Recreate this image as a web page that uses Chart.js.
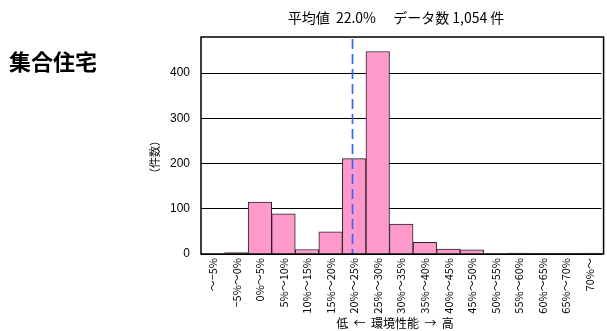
<!DOCTYPE html>
<html>
<head>
<meta charset="utf-8">
<script src="https://cdn.jsdelivr.net/npm/chart.js@4"></script>
<style>
  html, body { margin: 0; padding: 0; background: #fff; }
  #wrap { width: 607px; height: 331px; }
</style>
</head>
<body>
<div id="wrap"><canvas id="histChart" width="607" height="331"></canvas></div>
<script>
const categories = ['～−5%', '−5%～0%', '0%～5%', '5%～10%', '10%～15%', '15%～20%', '20%～25%', '25%～30%',
  '30%～35%', '35%～40%', '40%～45%', '45%～50%', '50%～55%', '55%～60%', '60%～65%', '65%～70%', '70%～'];
const counts = [0, 3, 115, 89, 10, 49, 211, 448, 66, 26, 11, 9, 0, 2, 1, 1, 2];
const yTicks = [0, 100, 200, 300, 400];
const meanPct = 22.0;
const dataCount = '1,054';

const jpFont = '"Noto Sans CJK JP", "Liberation Sans", sans-serif';

// extra drawing: frame, mean line, texts
const decorations = {
  id: 'decorations',
  afterDatasetsDraw(chart) {
    const ctx = chart.ctx;
    const area = chart.chartArea;
    const x = chart.scales.x;

    ctx.save();
    // mean line (category i covers -10+5i .. -5+5i %)
    const pos = (meanPct + 10) / 5 - 0.5;
    const mx = Math.round(x.getPixelForValue(pos)) + 0.5;
    ctx.strokeStyle = '#3366ff';
    ctx.lineWidth = 1.7;
    ctx.setLineDash([10, 5]);
    ctx.beginPath();
    ctx.moveTo(mx, area.top + 2);
    ctx.lineTo(mx, area.bottom);
    ctx.stroke();
    ctx.setLineDash([]);

    // frame
    ctx.strokeStyle = '#000';
    ctx.lineWidth = 1.5;
    ctx.strokeRect(area.left, area.top, area.right - area.left + 2, area.bottom - area.top);
    ctx.restore();
  },
  afterDraw(chart) {
    const ctx = chart.ctx;
    ctx.save();
    ctx.fillStyle = '#000';

    ctx.font = 'bold 22px ' + jpFont;
    ctx.textAlign = 'left';
    ctx.textBaseline = 'middle';
    ctx.fillText('集合住宅', 9, 62);

    ctx.font = '14px ' + jpFont;
    ctx.textAlign = 'center';
    ctx.fillText('平均値  ' + meanPct.toFixed(1) + '%　 データ数 ' + dataCount + ' 件', 396, 18);

    ctx.font = '12px ' + jpFont;
    ctx.fillText('低  ←  環境性能  →  高', 395, 323);

    ctx.font = '11px ' + jpFont;
    ctx.translate(155, 157);
    ctx.rotate(-Math.PI / 2);
    ctx.fillText('（件数）', 0, 0);
    ctx.restore();
  }
};

new Chart(document.getElementById('histChart'), {
  type: 'bar',
  data: {
    labels: categories,
    datasets: [{
      data: counts,
      backgroundColor: '#ff99cc',
      borderColor: '#222',
      borderWidth: 1,
      borderSkipped: 'bottom',
      categoryPercentage: 1.0,
      barPercentage: 1.0
    }]
  },
  options: {
    responsive: false,
    animation: false,
    layout: { padding: { top: 37, right: 0, left: 0, bottom: 0 } },
    plugins: {
      legend: { display: false },
      tooltip: { enabled: false }
    },
    scales: {
      x: {
        grid: { display: false, drawTicks: false },
        border: { display: false },
        ticks: {
          color: '#000',
          font: { family: jpFont, size: 11 },
          minRotation: 90,
          maxRotation: 90,
          autoSkip: false,
          padding: 4
        },
        afterFit(scale) { scale.height = 77; }
      },
      y: {
        min: 0,
        max: 480,
        afterBuildTicks(scale) { scale.ticks = yTicks.map(v => ({ value: v })); },
        grid: { color: '#000', lineWidth: 1, drawTicks: false },
        border: { display: false },
        ticks: {
          color: '#000',
          font: { family: '"Liberation Sans", Arial, sans-serif', size: 12 },
          padding: 11
        },
        afterFit(scale) { scale.width = 201; }
      }
    }
  },
  plugins: [decorations]
});
</script>
</body>
</html>
